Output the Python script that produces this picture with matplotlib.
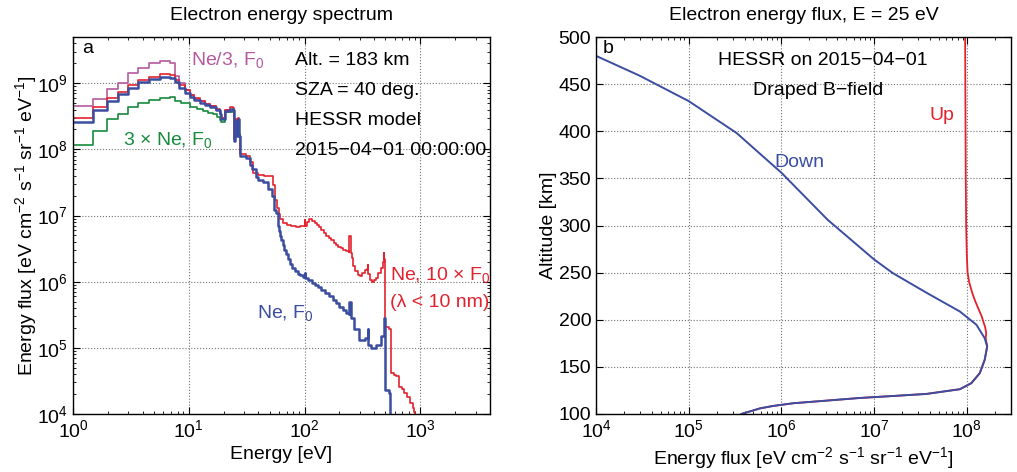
import matplotlib
matplotlib.use('Agg')
import matplotlib.pyplot as plt
import numpy as np
from matplotlib.ticker import LogLocator, MultipleLocator, NullFormatter

plt.rcParams['font.family'] = ['Liberation Sans', 'DejaVu Sans']
plt.rcParams['mathtext.fontset'] = 'custom'
plt.rcParams['mathtext.rm'] = 'Liberation Sans'
plt.rcParams['mathtext.it'] = 'Liberation Sans:italic'
plt.rcParams['mathtext.default'] = 'regular'
plt.rcParams['font.size'] = 14

# ---- panel a: electron energy spectra (step curves) ----
e_ne = [1.0, 1.5, 1.96, 2.46, 3.0, 3.67, 4.56, 5.62, 6.85, 7.56, 8.3, 9.2, 10.2, 11.2, 12.4,
        13.8, 15.2, 17.3, 18.5, 19.1, 20.4, 22.5, 24.0, 24.7, 25.3, 26.2, 26.6, 27.2, 27.6,
        31.5, 33.5, 35.5, 38, 40, 44, 48, 52.8, 55, 57, 58.5, 60, 61.5, 63, 65, 67, 69.5,
        72, 75, 78, 82, 87, 92, 97, 100, 101, 108, 115, 122, 130, 140, 150, 162, 175, 186,
        200, 215, 227, 240, 244, 250, 270, 296, 330, 350, 356, 375, 414, 457, 483, 495,
        500, 540, 545]
f_ne = [2.6e8, 3.9e8, 5.3e8, 6.8e8, 8.6e8, 1.03e9, 1.15e9, 1.26e9, 1.22e9, 1.03e9, 8.6e8,
        7.2e8, 6.1e8, 5.5e8, 5.1e8, 4.7e8, 4.4e8, 3.9e8, 3.4e8, 2.85e8, 3.8e8, 4.1e8, 4.0e8,
        1.34e8, 2.7e8, 1.6e8, 2.9e8, 1.6e8, 7.9e7, 7.5e7, 5.9e7, 5.0e7, 3.8e7, 3.5e7, 3.2e7,
        2.5e7, 1.95e7, 1.23e7, 1.1e7, 6.9e6, 5.8e6, 4.9e6, 4.2e6, 3.6e6, 3.0e6, 2.6e6, 2.2e6,
        1.85e6, 1.6e6, 1.45e6, 1.33e6, 1.25e6, 1.16e6, 1.35e6, 1.12e6, 1.05e6, 9.6e5, 8.9e5,
        8.2e5, 7.4e5, 6.8e5, 6.1e5, 5.3e5, 4.8e5, 4.2e5, 3.7e5, 3.4e5, 3.2e5, 5.0e5, 2.8e5,
        1.9e5, 1.32e5, 1.4e5, 1.9e5, 1.1e5, 1.0e5, 1.1e5, 1.5e5, 2.8e5, 1.9e5, 2.3e4,
        2.05e4, 5e3]

e_ne_10f = [1.0, 1.5, 1.96, 2.46, 3.0, 3.67, 4.56, 5.62, 6.85, 7.56, 8.3, 9.2, 10.2, 11.2,
            12.4, 13.8, 15.2, 17.3, 18.5, 19.1, 20.4, 22.5, 24.0, 24.7, 25.3, 26.2, 26.6,
            27.2, 27.6, 31.5, 33.5, 36, 40, 45, 53, 56, 58, 60, 62, 65, 70, 76, 84, 92, 99,
            100, 101, 105, 110, 116, 122, 128, 134, 140, 147, 154, 162, 170, 178, 186, 196,
            206, 216, 228, 240, 244, 250, 256, 262, 275, 290, 300, 316, 330, 345, 350, 356,
            370, 380, 395, 414, 435, 457, 475, 483, 490, 500, 540, 555, 590, 615, 650, 690,
            725, 770, 820, 860, 890, 895]
f_ne_10f = [2.95e8, 4.3e8, 5.9e8, 7.4e8, 9.3e8, 1.12e9, 1.25e9, 1.38e9, 1.32e9, 1.12e9,
            9.4e8, 7.8e8, 6.6e8, 5.9e8, 5.4e8, 4.9e8, 4.6e8, 4.1e8, 3.6e8, 3.0e8, 4.0e8,
            4.3e8, 4.2e8, 1.45e8, 2.9e8, 1.7e8, 3.0e8, 1.7e8, 8.5e7, 8.0e7, 6.4e7, 4.4e7,
            4.1e7, 3.9e7, 2.9e7, 1.7e7, 1.3e7, 1.05e7, 9.0e6, 7.8e6, 7.2e6, 6.9e6, 6.8e6,
            6.9e6, 7.0e6, 8.5e6, 7.0e6, 8.0e6, 8.8e6, 8.4e6, 7.8e6, 7.3e6, 6.8e6, 6.0e6,
            5.4e6, 4.9e6, 4.5e6, 4.2e6, 3.9e6, 3.6e6, 3.4e6, 3.2e6, 3.05e6, 2.9e6, 2.8e6,
            4.9e6, 2.7e6, 2.3e6, 1.7e6, 1.45e6, 1.25e6, 1.2e6, 1.35e6, 1.5e6, 1.55e6, 1.8e6,
            1.3e6, 1.05e6, 9.8e5, 1.05e6, 1.14e6, 1.35e6, 1.6e6, 2.0e6, 2.7e6, 2.2e6, 2.1e5,
            1.9e5, 4.1e4, 3.9e4, 3.7e4, 2.6e4, 2.4e4, 2.1e4, 1.8e4, 1.45e4, 1.25e4, 1.08e4,
            5e3]

e_ne3 = [1.0, 1.5, 1.96, 2.46, 3.0, 3.67, 4.56, 5.62, 6.85, 7.56, 8.3, 9.2, 10.2, 11.2,
         12.4, 13.8, 15.2, 17.3, 18.5, 19.1, 20.4, 24.0]
f_ne3 = [4.6e8, 5.8e8, 8.1e8, 1.0e9, 1.45e9, 1.7e9, 2.0e9, 2.18e9, 2.0e9, 1.3e9, 1.0e9,
         8.0e8, 6.6e8, 5.8e8, 5.3e8, 4.8e8, 4.5e8, 4.0e8, 3.45e8, 2.9e8, 3.9e8, 3.9e8]

e_3ne = [1.0, 1.5, 1.96, 2.46, 3.0, 3.67, 4.56, 5.62, 6.85, 7.56, 8.5, 10.2, 11.7, 13.2,
         14.6, 16.1, 17.5, 18.5, 19.1, 20.4, 24.0]
f_3ne = [1.15e8, 1.89e8, 2.85e8, 3.4e8, 4.3e8, 4.97e8, 5.5e8, 5.9e8, 6.2e8, 5.4e8, 5.0e8,
         4.4e8, 4.1e8, 3.8e8, 3.6e8, 3.4e8, 3.1e8, 2.8e8, 2.6e8, 3.7e8, 3.9e8]

# ---- panel b: 25 eV flux versus altitude ----
alt_down = [480, 459, 432, 398, 356, 306, 264, 249.7, 228.7, 208.8, 194.7, 180.5, 171.6,
            157.4, 143.3, 132.7, 126.3, 121.3, 119.1, 117, 114.2, 111.4, 108.5, 106, 100]
flux_down = [1e4, 2.95e4, 1e5, 3.3e5, 1e6, 3.16e6, 1e7, 1.58e7, 3.67e7, 8.41e7, 1.27e8,
             1.56e8, 1.66e8, 1.56e8, 1.38e8, 1.12e8, 8.41e7, 3.67e7, 1.6e7, 7.0e6, 3.07e6,
             1.34e6, 8.1e5, 5.9e5, 3.7e5]

alt_up = [500, 450, 400, 350, 300, 270, 250, 240, 228, 220, 210.6, 203.5, 198, 192, 186,
          180.5, 171.6, 157.4, 143.3, 132.7, 126.3, 121.3, 119.1, 117, 114.2, 111.4, 108.5,
          106, 100]
flux_up = [9.6e7, 9.65e7, 9.7e7, 9.75e7, 9.85e7, 1.0e8, 1.02e8, 1.06e8, 1.15e8, 1.23e8,
           1.35e8, 1.45e8, 1.51e8, 1.58e8, 1.62e8, 1.6e8, 1.66e8, 1.56e8, 1.38e8, 1.12e8,
           8.41e7, 3.67e7, 1.6e7, 7.0e6, 3.07e6, 1.34e6, 8.1e5, 5.9e5, 3.7e5]

c_blue = '#3a4da0'
c_red = '#e3222e'
c_mag = '#b45aa0'
c_green = '#178a3c'

flux_label = 'Energy flux [eV cm$^{-2}$ s$^{-1}$ sr$^{-1}$ eV$^{-1}$]'


def style(ax):
    ax.set_axisbelow(True)
    ax.tick_params(which='both', direction='in', top=True, right=True, labelsize=14)
    ax.tick_params(which='major', length=5, width=0.8)
    ax.tick_params(which='minor', length=2.5, width=0.6)
    ax.grid(True, which='major', linestyle=':', color='0.45', linewidth=0.8)
    for s in ax.spines.values():
        s.set_linewidth(1.0)


fig = plt.figure(figsize=(10.17, 4.72), dpi=100)
ax1 = fig.add_axes([73/1017, 1-414/472, 417/1017, 377/472])
ax2 = fig.add_axes([596/1017, 1-414/472, 415/1017, 377/472])

ax1.step(e_ne3, f_ne3, where='post', color=c_mag, lw=1.2)
ax1.step(e_3ne, f_3ne, where='post', color=c_green, lw=1.2)
ax1.step(e_ne_10f, f_ne_10f, where='post', color=c_red, lw=1.2)
ax1.step(e_ne, f_ne, where='post', color=c_blue, lw=1.8)
ax1.set_xscale('log')
ax1.set_yscale('log')
ax1.set_xlim(1, 4000)
ax1.set_ylim(1e4, 5e9)
ax1.yaxis.set_major_locator(LogLocator(base=10, numticks=10))
ax1.yaxis.set_minor_locator(LogLocator(base=10, subs=np.arange(2, 10), numticks=20))
ax1.yaxis.set_minor_formatter(NullFormatter())
style(ax1)
ax1.set_xlabel('Energy [eV]', fontsize=14, labelpad=4)
ax1.set_ylabel(flux_label, fontsize=14, labelpad=-1)
ax1.set_title('Electron energy spectrum', fontsize=14, pad=12)

t = ax1.transAxes
ax1.text(0.023, 0.957, 'a', transform=t, color='k')
ax1.text(0.282, 0.926, 'Ne/3, F$_0$', transform=t, color=c_mag)
ax1.text(0.532, 0.926, 'Alt. = 183 km', transform=t)
ax1.text(0.532, 0.846, 'SZA = 40 deg.', transform=t)
ax1.text(0.532, 0.767, 'HESSR model', transform=t)
ax1.text(0.532, 0.687, '2015\u221204\u221201 00:00:00', transform=t)
ax1.text(0.121, 0.714, '3 \u00d7 Ne, F$_0$', transform=t, color=c_green)
ax1.text(0.759, 0.355, 'Ne, 10 \u00d7 F$_0$', transform=t, color=c_red)
ax1.text(0.759, 0.285, '(\u03bb < 10 nm)', transform=t, color=c_red)
ax1.text(0.442, 0.254, 'Ne, F$_0$', transform=t, color=c_blue)

ax2.plot(flux_up, alt_up, color=c_red, lw=1.3)
ax2.plot(flux_down, alt_down, color=c_blue, lw=1.4)
ax2.set_xscale('log')
ax2.set_xlim(1e4, 3e8)
ax2.set_ylim(100, 500)
ax2.yaxis.set_major_locator(MultipleLocator(50))
ax2.xaxis.set_major_locator(LogLocator(base=10, numticks=10))
ax2.xaxis.set_minor_locator(LogLocator(base=10, subs=np.arange(2, 10), numticks=20))
ax2.xaxis.set_minor_formatter(NullFormatter())
style(ax2)
ax2.set_xlabel(flux_label, fontsize=14, labelpad=3)
ax2.set_ylabel('Altitude [km]', fontsize=14, labelpad=1)
ax2.set_title('Electron energy flux, E = 25 eV', fontsize=14, pad=12)

t = ax2.transAxes
ax2.text(0.017, 0.957, 'b', transform=t)
ax2.text(0.547, 0.926, 'HESSR on 2015\u221204\u221201', transform=t, ha='center')
ax2.text(0.535, 0.846, 'Draped B\u2212field', transform=t, ha='center')
ax2.text(0.803, 0.78, 'Up', transform=t, color=c_red)
ax2.text(0.431, 0.656, 'Down', transform=t, color=c_blue)

fig.savefig('out.png', dpi=100)
